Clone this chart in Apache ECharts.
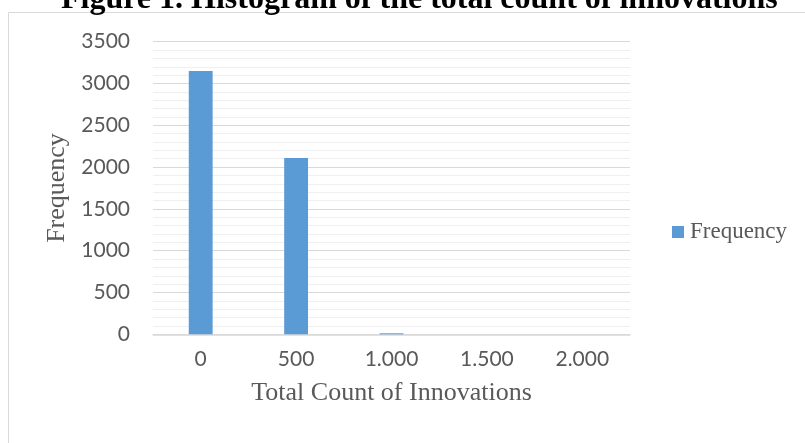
<!DOCTYPE html>
<html>
<head>
<meta charset="utf-8">
<script src="https://cdn.jsdelivr.net/npm/echarts@6/dist/echarts.min.js"></script>
<style>
html,body{margin:0;padding:0;background:#fff;}
#chart{width:805px;height:443px;}
</style>
</head>
<body>
<div id="chart"></div>
<script>
const categories = ['0', '500', '1.000', '1.500', '2.000'];
const frequency = [3150, 2110, 12, 0, 0];
const yTicks = { min: 0, max: 3500, interval: 500 };

const chart = echarts.init(document.getElementById('chart'), null, { renderer: 'canvas' });
const gray = '#595959';
chart.setOption({
  animation: false,
  backgroundColor: '#fff',
  graphic: [{
    type: 'rect',
    shape: { x: 8.5, y: 12.5, width: 820, height: 460 },
    style: { fill: 'none', stroke: '#d9d9d9', lineWidth: 1 },
    z: -1
  }],
  title: {
    text: 'Figure 1. Histogram of the total count of innovations',
    left: 56,
    top: -21,
    textStyle: { fontFamily: 'Liberation Serif', fontWeight: 'bold', fontSize: 32, color: '#000' }
  },
  legend: {
    data: ['Frequency'],
    left: 667,
    top: 215.5,
    itemWidth: 12,
    itemHeight: 12,
    icon: 'rect',
    itemGap: 6,
    textStyle: { fontFamily: 'Liberation Serif', fontSize: 23, color: gray, padding: [0, 0, 0, 1] }
  },
  grid: { left: 153, right: 175, top: 41.7, bottom: 108.7, containLabel: false },
  xAxis: {
    type: 'category',
    data: categories,
    name: 'Total Count of Innovations',
    nameLocation: 'middle',
    nameGap: 46,
    nameTextStyle: { fontFamily: 'Liberation Serif', fontSize: 26, color: gray },
    axisLine: { lineStyle: { color: '#d9d9d9', width: 1.5 } },
    axisTick: { show: false },
    axisLabel: { fontFamily: 'Lato', fontSize: 21, color: gray, margin: 14 }
  },
  yAxis: {
    type: 'value',
    min: yTicks.min,
    max: yTicks.max,
    interval: yTicks.interval,
    name: 'Frequency',
    nameLocation: 'middle',
    nameGap: 82,
    nameTextStyle: { fontFamily: 'Liberation Serif', fontSize: 26, color: gray },
    axisLine: { show: false },
    axisTick: { show: false },
    axisLabel: { fontFamily: 'Lato', fontSize: 21, color: gray, margin: 23, formatter: function (v) { return String(v); } },
    splitLine: { lineStyle: { color: '#d9d9d9', width: 1 } },
    minorTick: { show: false, splitNumber: 5 },
    minorSplitLine: { show: true, lineStyle: { color: '#efefef', width: 1 } }
  },
  series: [{
    name: 'Frequency',
    type: 'bar',
    data: frequency,
    barWidth: '25%',
    itemStyle: { color: '#5b9bd5' }
  }]
});
</script>
</body>
</html>
